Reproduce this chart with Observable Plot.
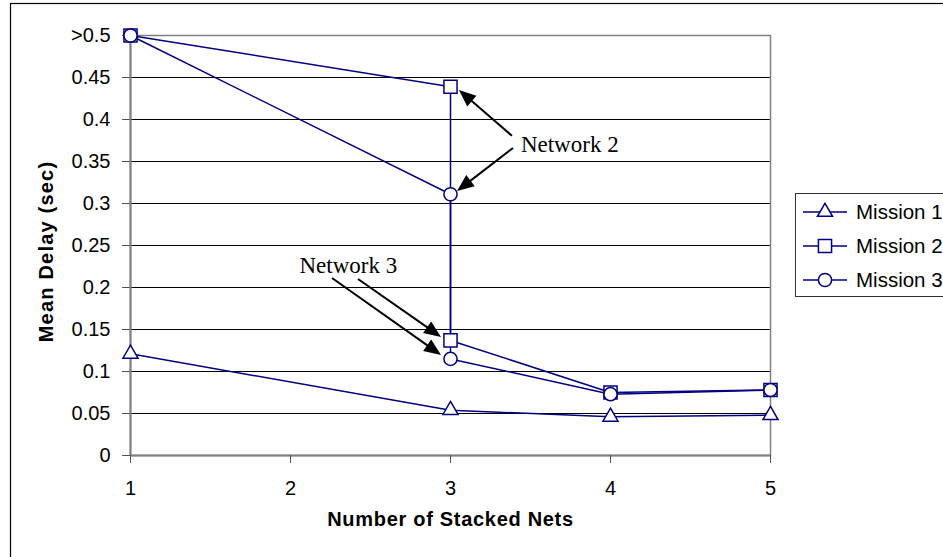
<!DOCTYPE html>
<html><head><meta charset="utf-8">
<script src="https://cdn.jsdelivr.net/npm/d3@7"></script>
<script src="https://cdn.jsdelivr.net/npm/@observablehq/plot@0.6"></script>
<style>
html,body{margin:0;padding:0;background:#fff;}
#chart svg{display:block;}
</style></head><body><div id="chart"></div>
<script>
const xTicks = [1, 2, 3, 4, 5];
const yTicks = [0, 0.05, 0.1, 0.15, 0.2, 0.25, 0.3, 0.35, 0.4, 0.45, 0.5];
const yTickLabels = ["0", "0.05", "0.1", "0.15", "0.2", "0.25", "0.3", "0.35", "0.4", "0.45", ">0.5"];
const seriesNames = ["Mission 1", "Mission 2", "Mission 3"];
const seriesSymbols = ["triangle", "square", "circle"];
const mission1X = [1, 3, 4, 5];
const mission1Y = [0.121, 0.054, 0.046, 0.048];
const mission2X = [1, 3, 3, 4, 5];
const mission2Y = [0.5, 0.439, 0.137, 0.075, 0.078];
const mission3X = [1, 3, 3, 4, 5];
const mission3Y = [0.5, 0.311, 0.115, 0.073, 0.078];
const annotationTexts = ["Network 2", "Network 3"];
const annotationX = [3.44, 2.056];
const annotationY = [0.361, 0.217];
const arrowFromX = [3.3875, 3.394, 2.425, 2.2625];
const arrowFromY = [0.38, 0.3655, 0.2095, 0.2107];
const arrowToX = [3.056, 3.044, 2.944, 2.944];
const arrowToY = [0.4345, 0.3143, 0.1405, 0.119];
const xTitle = "Number of Stacked Nets";
const yTitle = "Mean Delay (sec)";

const NAVY = "#000080";
const seriesX = [mission1X, mission2X, mission3X];
const seriesY = [mission1Y, mission2Y, mission3Y];
const rows = [];
seriesNames.forEach((s, k) => seriesX[k].forEach((x, i) => rows.push({series: s, x, y: seriesY[k][i]})));
const symbolR = {triangle: 5.6, square: 7.4, circle: 6.6};
const d3Sym = {triangle: d3.symbolTriangle, square: d3.symbolSquare, circle: d3.symbolCircle};
const annotations = annotationTexts.map((t, i) => ({t, x: annotationX[i], y: annotationY[i]}));
const arrows = arrowFromX.map((x, i) => ({x1: x, y1: arrowFromY[i], x2: arrowToX[i], y2: arrowToY[i]}));

function outerBorder() {
  const g = d3.create("svg:g");
  g.append("rect").attr("x", 10.5).attr("y", 3.5).attr("width", 1000).attr("height", 1000)
    .attr("fill", "none").attr("stroke", "#000").attr("stroke-width", 1.2);
  return g.node();
}

function arrowMark(index, scales) {
  const g = d3.create("svg:g").attr("aria-label", "arrows");
  for (const a of arrows) {
    const x1 = scales.x(a.x1), y1 = scales.y(a.y1), x2 = scales.x(a.x2), y2 = scales.y(a.y2);
    const ang = Math.atan2(y2 - y1, x2 - x1);
    const L = 17, W = 7;
    const bx = x2 - L * Math.cos(ang), by = y2 - L * Math.sin(ang);
    g.append("line").attr("x1", x1).attr("y1", y1).attr("x2", bx + 2 * Math.cos(ang)).attr("y2", by + 2 * Math.sin(ang))
      .attr("stroke", "#000").attr("stroke-width", 2);
    const px = -Math.sin(ang) * W, py = Math.cos(ang) * W;
    g.append("path").attr("d", `M${x2},${y2}L${bx + px},${by + py}L${bx - px},${by - py}Z`).attr("fill", "#000");
  }
  return g.node();
}

function legendMark() {
  const g = d3.create("svg:g").attr("aria-label", "legend");
  g.append("rect").attr("x", 795.5).attr("y", 193.5).attr("width", 300).attr("height", 103)
    .attr("fill", "#fff").attr("stroke", "#333").attr("stroke-width", 1);
  seriesNames.forEach((s, i) => {
    const y = 212 + i * 34;
    g.append("line").attr("x1", 803).attr("x2", 847).attr("y1", y).attr("y2", y)
      .attr("stroke", NAVY).attr("stroke-width", 1.5);
    const sym = seriesSymbols[i], r = symbolR[sym];
    g.append("path").attr("transform", `translate(825,${y})`)
      .attr("d", d3.symbol(d3Sym[sym], r * r * Math.PI)())
      .attr("fill", "#fff").attr("stroke", NAVY).attr("stroke-width", 1.5);
    g.append("text").attr("x", 856).attr("y", y).attr("dy", "0.35em")
      .attr("text-anchor", "start").style("font-size", "20.5px")
      .attr("fill", "#000").text(s);
  });
  return g.node();
}

const yFmt = d => yTickLabels[yTicks.findIndex(v => Math.abs(v - d) < 1e-9)];

const chart = Plot.plot({
  width: 943,
  height: 557,
  marginLeft: 130,
  marginRight: 173,
  marginTop: 35,
  marginBottom: 102,
  x: {domain: [1, 5]},
  y: {domain: [0, 0.5]},
  style: {fontFamily: "'Liberation Sans', Arial, sans-serif", fontSize: "20px", background: "#fff", color: "#000"},
  marks: [
    outerBorder,
    Plot.gridY(yTicks, {stroke: "#000", strokeOpacity: 1, strokeWidth: 1}),
    Plot.frame({stroke: "#808080", strokeWidth: 1.5}),
    Plot.ruleX([1], {stroke: "#808080", strokeWidth: 2}),
    Plot.ruleY([0], {stroke: "#808080", strokeWidth: 2}),
    Plot.axisY({ticks: yTicks, tickFormat: yFmt, tickSize: 8, tickPadding: 12, label: null, stroke: "#555", fill: "#000", fontSize: 20}),
    Plot.axisX({ticks: xTicks, tickFormat: d => String(d), tickSize: 8, tickPadding: 17, label: null, stroke: "#555", fill: "#000", fontSize: 20}),
    Plot.line(rows, {x: "x", y: "y", z: "series", stroke: NAVY, strokeWidth: 1.5}),
    ...seriesNames.map((s, i) => Plot.dot(rows.filter(d => d.series === s), {
      x: "x", y: "y", symbol: () => seriesSymbols[i], r: symbolR[seriesSymbols[i]],
      fill: "#fff", stroke: NAVY, strokeWidth: 1.5
    })),
    arrowMark,
    Plot.text(annotations, {x: "x", y: "y", text: "t", textAnchor: "start", lineAnchor: "bottom",
      fontFamily: "'Liberation Serif', 'Times New Roman', serif", fontSize: 23, fill: "#000"}),
    Plot.text([xTitle], {frameAnchor: "bottom", dy: 70, text: d => d, textAnchor: "middle",
      fontWeight: "bold", fontSize: 20, fill: "#000"}),
    Plot.text([yTitle], {frameAnchor: "left", dx: -83.5, dy: 6, rotate: -90, text: d => d, textAnchor: "middle",
      fontWeight: "bold", fontSize: 20, fill: "#000"}),
    legendMark
  ]
});
d3.select(chart).selectAll("text").each(function () {
  if (this.textContent === xTitle) this.style.letterSpacing = "0.7px";
  if (this.textContent === yTitle) this.style.letterSpacing = "1.2px";
});
document.getElementById("chart").appendChild(chart);
</script></body></html>
